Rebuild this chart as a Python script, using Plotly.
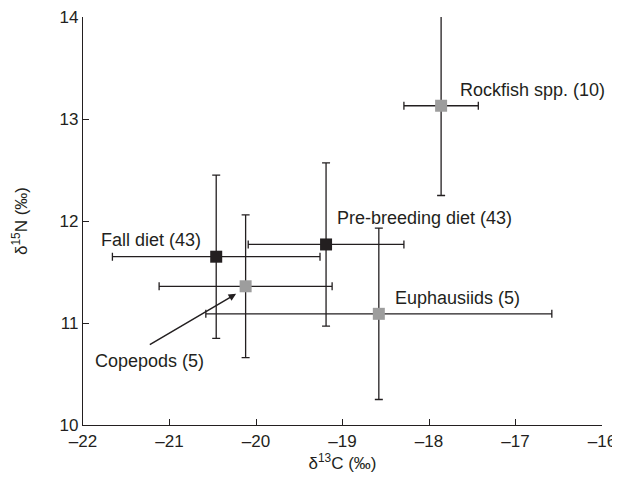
import plotly.graph_objects as go

names = ["Rockfish spp. (10)", "Pre-breeding diet (43)", "Fall diet (43)", "Copepods (5)", "Euphausiids (5)"]
d13c = [-17.86, -19.19, -20.46, -20.12, -18.58]
d13c_sd = [0.43, 0.90, 1.20, 1.00, 2.00]
d15n = [13.13, 11.77, 11.65, 11.36, 11.09]
d15n_sd = [0.88, 0.80, 0.80, 0.70, 0.84]
colors = ["#9d9d9d", "#231f20", "#231f20", "#9d9d9d", "#9d9d9d"]

# label anchor positions (data coords)
label_x = [-17.67, -19.09, -21.82, -21.88, -18.42]
label_y = [13.28, 12.03, 11.81, 10.63, 11.25]

xticks = [-22, -21, -20, -19, -18, -17, -16]
yticks = [10, 11, 12, 13, 14]

FONT = "Liberation Sans, Arial, Helvetica, sans-serif"
INK = "#231f20"

fig = go.Figure()
fig.add_trace(go.Scatter(
    x=d13c, y=d15n, mode="markers",
    marker=dict(symbol="square", size=12, color=colors, line=dict(width=0)),
    error_x=dict(type="data", array=d13c_sd, visible=True, color=INK, thickness=1.3, width=4),
    error_y=dict(type="data", array=d15n_sd, visible=True, color=INK, thickness=1.3, width=4),
    showlegend=False, hoverinfo="skip",
))

for n, lx, ly in zip(names, label_x, label_y):
    fig.add_annotation(x=lx, y=ly, text=n, showarrow=False, xanchor="left", yanchor="middle",
                       font=dict(family=FONT, size=18, color=INK))

# arrow pointing to copepods
fig.add_annotation(x=-20.23, y=11.286, ax=-21.245, ay=10.78, axref="x", ayref="y",
                   text="", showarrow=True, arrowhead=2, arrowsize=1, arrowwidth=1.5,
                   arrowcolor=INK, standoff=0)

axis_common = dict(showline=True, linecolor=INK, linewidth=1.3, ticks="inside", ticklen=6,
                   tickcolor=INK, tickwidth=1.3, showgrid=False, zeroline=False,
                   ticklabeloverflow="allow",
                   tickfont=dict(family=FONT, size=17, color=INK), mirror=False)

fig.update_xaxes(range=[-22, -16], tickvals=xticks, ticktext=["\u2013" + str(abs(v)) for v in xticks],
                 title=dict(text="\u03b4<sup>13</sup>C (\u2030)", font=dict(family=FONT, size=17, color=INK), standoff=7),
                 **axis_common)
fig.update_yaxes(range=[10, 14], tickvals=yticks, ticktext=[str(v) for v in yticks],
                 title=dict(text="\u03b4<sup>15</sup>N (\u2030)", font=dict(family=FONT, size=17, color=INK), standoff=27),
                 **axis_common)

# page body adds an 8px offset; figure sized/margined to compensate
fig.update_layout(width=612, height=466, margin=dict(l=75, r=18, t=8.5, b=49, autoexpand=False),
                  plot_bgcolor="white", paper_bgcolor="white")
fig.write_html("out.html")
